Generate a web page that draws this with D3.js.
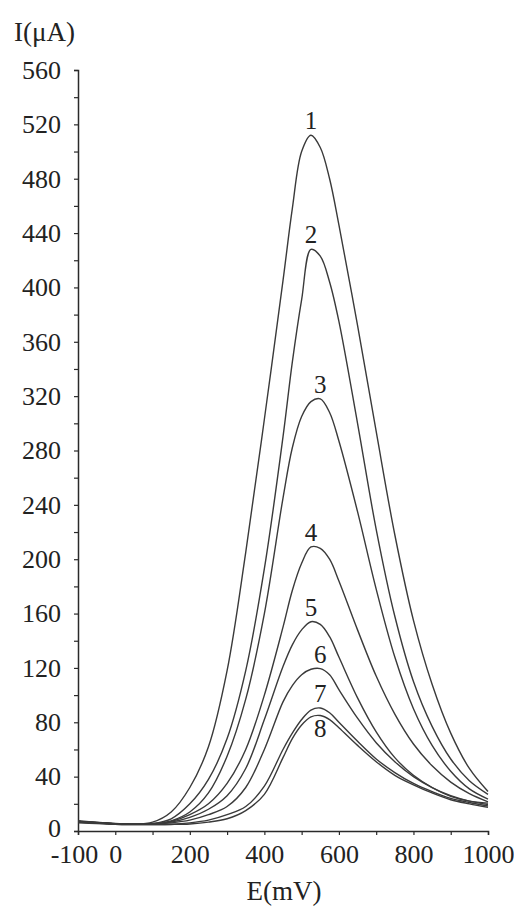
<!DOCTYPE html>
<html>
<head>
<meta charset="utf-8">
<script src="https://cdn.jsdelivr.net/npm/d3@7"></script>
<style>
  html, body { margin: 0; padding: 0; background: #fff; }
  svg { display: block; }
  text { font-family: "Liberation Serif", "Times New Roman", serif; fill: #222; }
</style>
</head>
<body>
<svg id="chart" width="514" height="908"></svg>
<script>
// Potential (mV) at which each voltammogram is sampled
const potentials = [-100, -50, 0, 50, 100, 150, 200, 250, 300, 350, 400, 450, 475, 500, 525, 550, 575, 600, 650, 700, 750, 800, 850, 900, 950, 1000];

// Current (µA) for curves 1–8
const curve1 = [7.5, 6.5, 5.5, 5, 6.5, 14, 32, 62, 118, 205, 303, 405, 458, 500, 512, 503, 480, 446, 372, 294, 218, 155, 108, 72, 46, 29];
const curve2 = [7, 6.3, 5.3, 5, 5.5, 9, 20, 38, 68, 118, 193, 290, 345, 391, 428, 423, 404, 375, 300, 222, 158, 110, 77, 53, 37, 27];
const curve3 = [7, 6.2, 5.3, 5, 5.3, 7.5, 14, 28, 55, 97, 160, 245, 282, 305, 316, 318, 308, 287, 235, 178, 128, 90, 63, 44, 31, 23.5];
const curve4 = [7, 6.2, 5.3, 5, 5.2, 7, 12, 20, 35, 60, 100, 150, 177, 197, 209, 208, 200, 184, 148, 114, 86, 64, 48, 36, 27.5, 21.5];
const curve5 = [7, 6, 5.2, 5, 5, 6.5, 10, 16, 26, 46, 82, 121, 137, 148, 154, 152, 143, 128, 98, 73, 54, 41, 32, 25.5, 22, 20.5];
const curve6 = [7, 6, 5.2, 5, 5, 6, 8, 12, 18, 32, 60, 95, 107, 115, 119, 119.5, 115, 104, 83, 65, 51, 40, 32, 26, 22, 19.5];
const curve7 = [6.5, 5.8, 5, 4.8, 4.8, 5, 6, 8, 12, 18, 33, 60, 72, 82, 89, 90.5, 87, 80, 66, 53, 43, 35, 29, 24, 21, 18.5];
const curve8 = [6, 5.5, 5, 4.8, 4.7, 4.8, 5.2, 6.5, 9, 15, 27, 54, 68, 78, 84, 85, 82, 76, 63, 51, 41, 34, 28, 23, 20, 17.5];

const curveNames = ["1", "2", "3", "4", "5", "6", "7", "8"];
const allCurves = [curve1, curve2, curve3, curve4, curve5, curve6, curve7, curve8];

// Axis ticks
const xTicks = [-100, 0, 100, 200, 300, 400, 500, 600, 700, 800, 900, 1000];
const xTickLabels = ["-100", "0", "", "200", "", "400", "", "600", "", "800", "", "1000"];
const yTicks = d3.range(0, 561, 20);
const yTickLabels = yTicks.map(v => (v % 40 === 0 ? String(v) : ""));

const svg = d3.select("#chart");

const x = d3.scaleLinear().domain([-100, 1000]).range([78, 488]);
const y = d3.scaleLinear().domain([0, 560]).range([831, 70]);

const axisColor = "#2a2a2a";
const lineColor = "#3a3a3a";
const fontSize = 26;

// x axis
const xAxis = d3.axisBottom(x)
  .tickValues(xTicks)
  .tickSize(4)
  .tickPadding(10)
  .tickFormat((d, i) => xTickLabels[i]);
const gx = svg.append("g").attr("transform", `translate(0,${y(0)})`).call(xAxis);
gx.select(".domain").attr("stroke", axisColor).attr("stroke-width", 1.5);
gx.selectAll(".tick line").attr("stroke", axisColor).attr("stroke-width", 1.2);
gx.selectAll(".tick text")
  .attr("font-size", fontSize)
  .attr("font-family", "Liberation Serif, Times New Roman, serif")
  .attr("fill", "#222");
gx.selectAll(".tick text").filter(d => d === -100).attr("dx", -4);

// y axis
const yAxis = d3.axisLeft(y)
  .tickValues(yTicks)
  .tickSize(4)
  .tickPadding(13)
  .tickFormat((d, i) => yTickLabels[i]);
const gy = svg.append("g").attr("transform", `translate(${x(-100)},0)`).call(yAxis);
gy.select(".domain").attr("stroke", axisColor).attr("stroke-width", 1.5);
gy.selectAll(".tick line").attr("stroke", axisColor).attr("stroke-width", 1.2);
gy.selectAll(".tick text")
  .attr("font-size", fontSize)
  .attr("font-family", "Liberation Serif, Times New Roman, serif")
  .attr("fill", "#222");
gy.selectAll(".tick text").filter(d => d === 0).attr("dy", "0.22em");

// axis titles
svg.append("text")
  .attr("x", 14).attr("y", 41)
  .attr("font-size", fontSize + 1)
  .text("I(μA)");
svg.append("text")
  .attr("x", 284).attr("y", 900)
  .attr("text-anchor", "middle")
  .attr("font-size", fontSize + 1)
  .text("E(mV)");

// voltammograms
const line = d3.line()
  .x(d => x(d[0]))
  .y(d => y(d[1]))
  .curve(d3.curveCatmullRom.alpha(0.5));

const plot = svg.append("g");
allCurves.forEach((vals, i) => {
  const pts = potentials.map((p, j) => [p, vals[j]]);
  plot.append("path")
    .datum(pts)
    .attr("fill", "none")
    .attr("stroke", lineColor)
    .attr("stroke-width", 1.4)
    .attr("d", line);

  // curve number at the peak
  const k = d3.maxIndex(vals);
  const below = i === allCurves.length - 1;
  plot.append("text")
    .attr("x", x(potentials[k]))
    .attr("y", below ? y(vals[k]) + 22 : y(vals[k]) - 6)
    .attr("text-anchor", "middle")
    .attr("font-size", fontSize - 1)
    .text(curveNames[i]);
});
</script>
</body>
</html>
